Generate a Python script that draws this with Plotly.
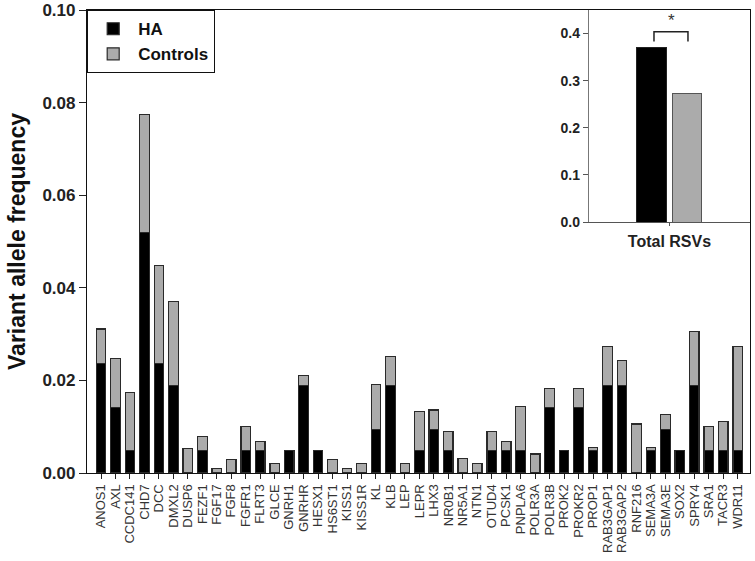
import plotly.graph_objects as go

genes = ["ANOS1", "AXL", "CCDC141", "CHD7", "DCC", "DMXL2", "DUSP6", "FEZF1", "FGF17", "FGF8",
         "FGFR1", "FLRT3", "GLCE", "GNRH1", "GNRHR", "HESX1", "HS6ST1", "KISS1", "KISS1R", "KL",
         "KLB", "LEP", "LEPR", "LHX3", "NR0B1", "NR5A1", "NTN1", "OTUD4", "PCSK1", "PNPLA6",
         "POLR3A", "POLR3B", "PROK2", "PROKR2", "PROP1", "RAB3GAP1", "RAB3GAP2", "RNF216", "SEMA3A", "SEMA3E",
         "SOX2", "SPRY4", "SRA1", "TACR3", "WDR11"]

ha = [0.0237, 0.0142, 0.0048, 0.0519, 0.0237, 0.0189, 0, 0.0048, 0, 0,
      0.0048, 0.0048, 0, 0.0048, 0.0189, 0.0048, 0, 0, 0, 0.0094,
      0.0189, 0, 0.0048, 0.0094, 0.0048, 0, 0, 0.0048, 0.0048, 0.0048,
      0, 0.0142, 0.0048, 0.0142, 0.0048, 0.0189, 0.0189, 0, 0.0048, 0.0094,
      0.0048, 0.0189, 0.0048, 0.0048, 0.0048]

controls = [0.0074, 0.0106, 0.0126, 0.0256, 0.0212, 0.0181, 0.0053, 0.0030, 0.0010, 0.0030,
            0.0053, 0.0020, 0.0021, 0, 0.0021, 0, 0.0030, 0.0010, 0.0021, 0.0098,
            0.0063, 0.0021, 0.0084, 0.0042, 0.0041, 0.0031, 0.0021, 0.0042, 0.0020, 0.0095,
            0.0041, 0.0041, 0, 0.0041, 0.0007, 0.0085, 0.0054, 0.0106, 0.0007, 0.0032,
            0, 0.0116, 0.0052, 0.0063, 0.0225]

inset_groups = ["HA", "Controls"]
inset_pos = [0.391, 0.609]
inset_values = [0.370, 0.272]

y_ticks = [0.00, 0.02, 0.04, 0.06, 0.08, 0.10]
inset_ticks = [0.0, 0.1, 0.2, 0.3, 0.4]

BLACK = "#000000"
GREY = "#ABABAB"
OUTLINE = "#2a2a2a"
FONT = "Arial, Liberation Sans, sans-serif"

fig = go.Figure()
fig.add_trace(go.Bar(x=genes, y=ha, name="HA", marker=dict(color=BLACK, line=dict(color=OUTLINE, width=1.2))))
fig.add_trace(go.Bar(x=genes, y=controls, name="Controls", marker=dict(color=GREY, line=dict(color=OUTLINE, width=1.2))))

fig.add_trace(go.Bar(x=[inset_pos[0]], y=[inset_values[0]], width=0.186, xaxis="x2", yaxis="y2",
                     marker=dict(color=BLACK, line=dict(color="#222", width=1)), showlegend=False))
fig.add_trace(go.Bar(x=[inset_pos[1]], y=[inset_values[1]], width=0.186, xaxis="x2", yaxis="y2",
                     marker=dict(color=GREY, line=dict(color="#555", width=1)), showlegend=False))

fig.update_layout(
    width=755, height=561,
    margin=dict(l=87, r=5, t=10, b=88, autoexpand=False),
    paper_bgcolor="white", plot_bgcolor="white",
    barmode="stack", bargap=0.34,
    font=dict(family=FONT, color="#222"),
    showlegend=True,
    legend=dict(x=0, y=1, xanchor="left", yanchor="top", bgcolor="white",
                bordercolor="#111", borderwidth=1.2, traceorder="normal",
                font=dict(size=17, family=FONT, color="#111", weight="bold"),
                itemwidth=40, tracegroupgap=0),
    xaxis=dict(
        range=[-0.97, 44.85], tickmode="array", tickvals=genes, ticktext=genes,
        tickangle=-90, ticks="outside", ticklen=5, tickcolor="#222",
        tickfont=dict(size=13, color="#333", family=FONT),
        showline=True, linecolor="#111", linewidth=1.2, mirror=True, showgrid=False,
        zeroline=False, automargin=False,
    ),
    yaxis=dict(
        range=[0, 0.1], tickvals=y_ticks, tickformat=".2f", ticks="outside", ticklen=7,
        tickcolor="#222", tickfont=dict(size=17, color="#222", family=FONT, weight="bold"),
        showline=True, linecolor="#111", linewidth=1.2, mirror=True, showgrid=False,
        zeroline=False, automargin=False,
        title=dict(text="Variant allele frequency", standoff=10,
                   font=dict(size=23, color="#111", family=FONT, weight="bold")),
    ),
    xaxis2=dict(
        domain=[0.757, 1.0], anchor="y2", range=[0, 1], tickvals=[0.5], ticktext=[""],
        ticks="outside", ticklen=3, tickcolor="#555",
        showline=True, linecolor="#555", linewidth=1.2, showgrid=False, zeroline=False,
        automargin=False,
        title=dict(text="Total RSVs", standoff=8,
                   font=dict(size=16, color="#222", family=FONT, weight="bold")),
    ),
    yaxis2=dict(
        domain=[0.542, 1.0], anchor="x2", range=[0, 0.45], tickvals=inset_ticks, tickformat=".1f",
        ticks="outside", ticklen=5, tickcolor="#555",
        tickfont=dict(size=14, color="#222", family=FONT, weight="bold"),
        showline=True, linecolor="#777", linewidth=1.2, showgrid=False, zeroline=False,
        automargin=False,
    ),
    shapes=[
        dict(type="path", xref="x2", yref="y2",
             path="M 0.404,0.383 L 0.404,0.404 L 0.615,0.404 L 0.615,0.383",
             line=dict(color="#222", width=1.5)),
    ],
    annotations=[
        dict(x=0.51, y=0.428, xref="x2", yref="y2", text="*", showarrow=False,
             font=dict(size=17, color="#333", family=FONT)),
    ],
)

fig.write_html("out.html", config={"displayModeBar": False},
               post_script="document.body.style.margin='0px';")
